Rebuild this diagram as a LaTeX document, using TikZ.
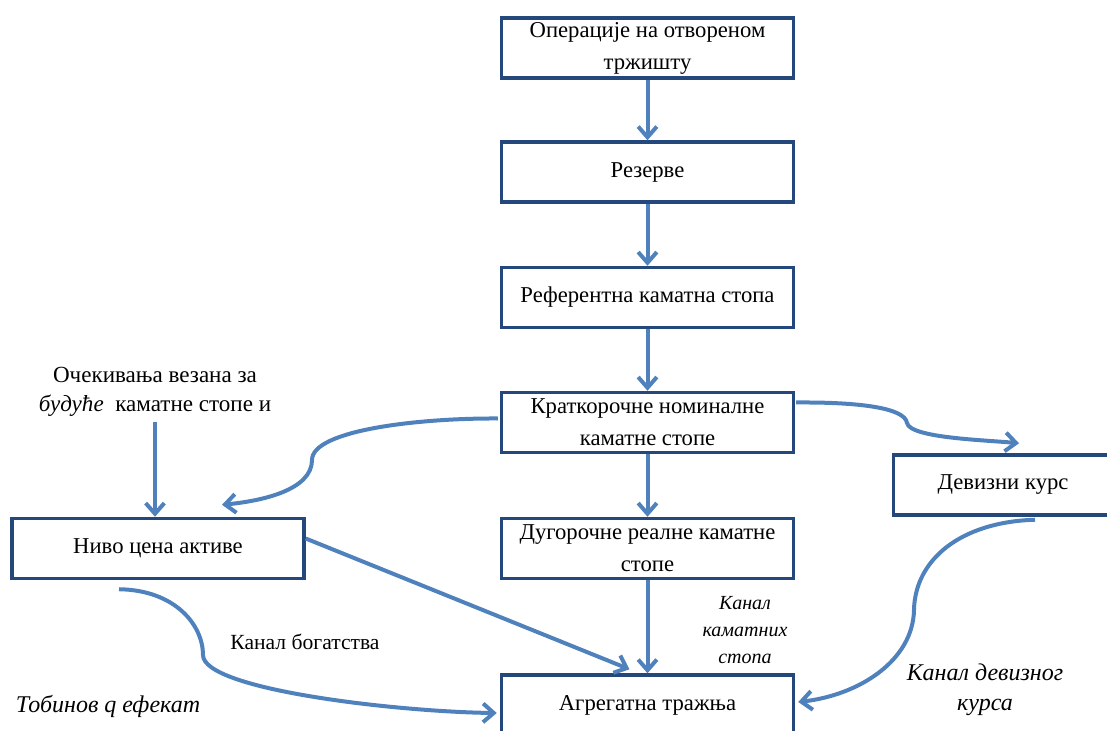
\documentclass[tikz,border=0pt]{standalone}
\usepackage{fontspec}
\setmainfont{Liberation Serif}
\usepackage{xcolor}
\usetikzlibrary{arrows.meta, calc}
\definecolor{boxblue}{RGB}{36,72,124}
\definecolor{arrowblue}{RGB}{79,129,189}
\tikzset{
    box/.style={draw=boxblue, line width=2.6pt, minimum width=219pt, minimum height=45pt, inner sep=0pt, align=center, font=\fontsize{17}{24}\selectfont},
    flow/.style={arrowblue, line width=3pt, -{Straight Barb[length=8pt,width=14pt]}},
    note/.style={align=center, font=\fontsize{17.3}{22}\selectfont},
    channel/.style={align=center, font=\fontsize{15}{20}\selectfont\itshape}
}

\begin{document}
\begin{tikzpicture}[x=0.75pt, y=-0.75pt]
    \useasboundingbox (0,0) rectangle (1107,731);
    \node[box] (open) at (647.5,48) {Операције на отвореном\\тржишту};
    \node[box] (res) at (647.5,172) {Резерве};
    \node[box] (ref) at (647.5,297.5) {Референтна каматна стопа};
    \node[box] (krat) at (647.5,422.5) {Краткорочне номиналне\\каматне стопе};
    \node[box] (dug) at (647.5,548.5) {Дугорочне реалне каматне\\стопе};
    \node[box] (agr) at (647.5,705) {Агрегатна тражња};
    \node[box] (nivo) at (158,548.5) {Ниво цена активе};
    \node[box, minimum width=164pt] (dev) at (1003,485) {Девизни курс};
    \node[note] (ocek) at (155,392) {Очекивања везана за\\\textit{будуће}\ \ каматне стопе и};
    \node[note, font=\fontsize{16.2}{20}\selectfont] (wealth) at (305,642) {Канал богатства};
    \node[channel, font=\fontsize{18}{22.5}\selectfont\itshape] (tobin) at (108,706) {Тобинов q ефекат};
    \node[channel] (kamkan) at (745,630) {Канал\\каматних\\стопа};
    \node[channel, font=\fontsize{18}{22.5}\selectfont\itshape] (devkan) at (985,690) {Канал девизног\\курса};
    \draw[flow] (open) -- (res);
    \draw[flow] (res) -- (ref);
    \draw[flow] (ref) -- (krat);
    \draw[flow] (krat) -- (dug);
    \draw[flow] (dug) -- (agr);
    \draw[flow] (ocek.south) -- (ocek.south |- nivo.north);
    \draw[flow] ($(nivo.east)+(0,-10)$) -- ($(agr.north)+(-18,-4)$);
    \draw[flow] ($(krat.west)+(-2,-4)$) .. controls (420,418) and (312,430) .. (312,460) .. controls (312,490) and (262,501) .. ($(nivo.north)+(64,-12)$);
    \draw[flow] ($(krat.east)+(1,-20)$) .. controls (860,402) and (905,408) .. (907,423) .. controls (910,438) and (985,440) .. ($(dev.north)+(16,-10)$);
    \draw[flow] ($(nivo.south)+(-39,9)$) .. controls (175,590) and (203,625) .. (203,655) .. controls (203,690) and (400,712) .. ($(agr.west)+(-3,8)$);
    \draw[flow] ($(dev.south)+(32,3)$) .. controls (960,522) and (915,560) .. (914,610) .. controls (913,660) and (860,695) .. ($(agr.east)+(3,-3)$);
\end{tikzpicture}
\end{document}
